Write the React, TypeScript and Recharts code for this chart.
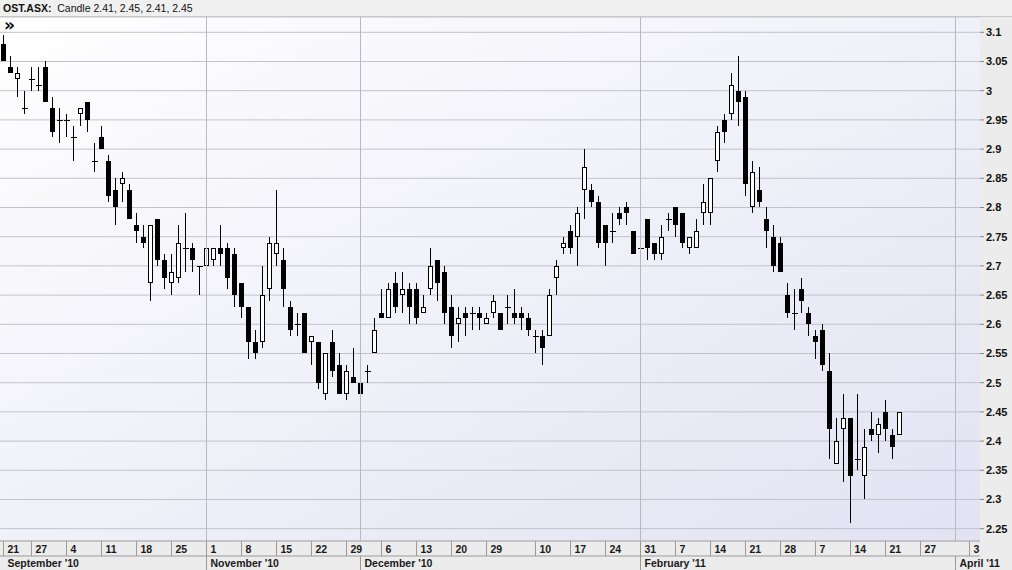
import React from 'react';
import { ComposedChart, Bar, XAxis, YAxis, CartesianGrid, ReferenceLine } from 'recharts';

const opens = [3.08,3.04,3.02,2.97,3.02,3.01,3.04,2.97,2.95,2.95,2.92,2.96,2.98,2.88,2.92,2.88,2.83,2.84,2.83,2.77,2.75,2.67,2.78,2.71,2.67,2.68,2.73,2.73,2.70,2.70,2.71,2.73,2.73,2.72,2.67,2.63,2.57,2.57,2.66,2.72,2.71,2.63,2.60,2.62,2.57,2.57,2.48,2.57,2.53,2.48,2.51,2.50,2.52,2.55,2.62,2.61,2.67,2.65,2.66,2.66,2.62,2.66,2.71,2.69,2.63,2.60,2.62,2.62,2.62,2.60,2.62,2.62,2.63,2.62,2.62,2.61,2.58,2.58,2.58,2.68,2.73,2.76,2.75,2.83,2.83,2.81,2.77,2.76,2.79,2.80,2.76,2.73,2.78,2.74,2.72,2.78,2.80,2.79,2.73,2.73,2.79,2.79,2.88,2.95,2.96,3.00,2.99,2.80,2.83,2.78,2.75,2.74,2.65,2.62,2.66,2.62,2.58,2.59,2.52,2.36,2.42,2.44,2.37,2.34,2.42,2.41,2.45,2.41,2.41];
const highs = [3.095,3.06,3.04,3.00,3.04,3.04,3.05,2.99,2.97,2.96,2.94,2.97,2.98,2.91,2.94,2.89,2.85,2.86,2.84,2.79,2.77,2.77,2.78,2.72,2.72,2.77,2.79,2.74,2.70,2.76,2.73,2.77,2.74,2.73,2.67,2.63,2.59,2.70,2.75,2.83,2.73,2.64,2.62,2.62,2.58,2.57,2.55,2.59,2.55,2.53,2.56,2.52,2.53,2.61,2.66,2.67,2.69,2.69,2.67,2.67,2.65,2.73,2.71,2.70,2.65,2.63,2.63,2.63,2.63,2.62,2.65,2.62,2.65,2.66,2.63,2.62,2.59,2.59,2.66,2.71,2.75,2.77,2.80,2.90,2.84,2.82,2.77,2.79,2.80,2.81,2.76,2.75,2.78,2.74,2.77,2.79,2.80,2.79,2.75,2.78,2.84,2.85,2.94,2.96,3.03,3.06,3.00,2.88,2.87,2.80,2.77,2.75,2.67,2.66,2.68,2.63,2.59,2.60,2.55,2.44,2.48,2.44,2.48,2.42,2.45,2.44,2.47,2.42,2.45];
const lows = [3.05,3.03,2.99,2.96,3.00,3.00,2.98,2.92,2.91,2.92,2.88,2.94,2.93,2.86,2.90,2.81,2.77,2.81,2.78,2.74,2.73,2.64,2.70,2.66,2.65,2.67,2.69,2.69,2.65,2.70,2.70,2.70,2.66,2.63,2.61,2.54,2.54,2.56,2.64,2.70,2.63,2.58,2.58,2.55,2.53,2.49,2.47,2.51,2.48,2.47,2.50,2.46,2.50,2.55,2.61,2.61,2.62,2.62,2.60,2.60,2.62,2.65,2.64,2.60,2.56,2.57,2.58,2.59,2.59,2.60,2.61,2.59,2.60,2.60,2.59,2.58,2.55,2.53,2.58,2.65,2.72,2.72,2.70,2.78,2.80,2.73,2.70,2.74,2.77,2.77,2.72,2.71,2.71,2.71,2.71,2.76,2.75,2.73,2.72,2.73,2.77,2.77,2.86,2.91,2.95,2.94,2.82,2.79,2.80,2.73,2.69,2.69,2.61,2.59,2.62,2.58,2.54,2.52,2.37,2.36,2.33,2.26,2.35,2.30,2.40,2.38,2.40,2.37,2.41];
const closes = [3.05,3.03,3.03,2.97,3.02,3.01,2.98,2.93,2.95,2.95,2.92,2.97,2.95,2.88,2.90,2.82,2.80,2.85,2.78,2.76,2.74,2.77,2.71,2.68,2.69,2.74,2.73,2.71,2.70,2.73,2.73,2.72,2.68,2.65,2.63,2.57,2.55,2.65,2.74,2.74,2.66,2.59,2.60,2.55,2.58,2.50,2.55,2.52,2.48,2.52,2.50,2.48,2.52,2.59,2.61,2.66,2.63,2.66,2.63,2.61,2.63,2.70,2.67,2.62,2.58,2.61,2.61,2.62,2.61,2.61,2.64,2.59,2.63,2.61,2.61,2.59,2.58,2.56,2.65,2.70,2.74,2.73,2.79,2.87,2.81,2.74,2.74,2.76,2.78,2.79,2.72,2.73,2.73,2.72,2.75,2.78,2.77,2.74,2.75,2.76,2.81,2.85,2.93,2.93,3.01,2.98,2.84,2.86,2.81,2.76,2.70,2.69,2.62,2.62,2.64,2.60,2.57,2.53,2.42,2.40,2.44,2.34,2.37,2.39,2.41,2.43,2.42,2.39,2.45];

const slotCount = 140;
const dayTickIdx = [0,4,9,14,19,24,29,34,39,44,49,54,59,64,69,76,81,86,91,96,101,106,111,116,121,126,131,138];
const dayTickLabels = ['21','27','4','11','18','25','1','8','15','22','29','6','13','20','29','10','17','24','31','7','14','21','28','7','14','21','27','3'];
const monthTickIdx = [0,29,51,91,136];
const monthTickLabels = ["September '10","November '10","December '10","February '11","April '11"];
const yTicks = [2.25,2.3,2.35,2.4,2.45,2.5,2.55,2.6,2.65,2.7,2.75,2.8,2.85,2.9,2.95,3,3.05,3.1];
const yDomain = [2.2289, 3.1262];

const data = Array.from({ length: slotCount }, (_, i) => ({
  i,
  o: i < opens.length ? opens[i] : null,
  h: i < highs.length ? highs[i] : null,
  l: i < lows.length ? lows[i] : null,
  c: i < closes.length ? closes[i] : null,
}));

const FONT = '"Liberation Sans", Arial, sans-serif';

const Candle = (props: any) => {
  const { x, y, width, height, payload } = props;
  if (!payload || payload.o == null || x == null || y == null) return null;
  const { o, h, l, c } = payload;
  const top = Math.min(y, y + height);
  const hh = Math.abs(height);
  const ratio = h - l > 0 ? hh / (h - l) : 0;
  const py = (v: number) => top + (h - v) * ratio;
  const cx = Math.floor(x + width / 2) + 0.5;
  const yH = Math.round(py(h));
  const yL = Math.round(py(l));
  const yO = py(o);
  const yC = py(c);
  const bTop = Math.round(Math.min(yO, yC));
  const bBot = Math.round(Math.max(yO, yC));
  const up = c > o;
  const doji = bBot - bTop < 1;
  return (
    <g>
      <line x1={cx} x2={cx} y1={yH} y2={yL} stroke="#000" strokeWidth={1} shapeRendering="crispEdges" />
      {doji ? (
        <line x1={cx - 3} x2={cx + 3} y1={bTop + 0.5} y2={bTop + 0.5} stroke="#000" strokeWidth={1} shapeRendering="crispEdges" />
      ) : up ? (
        <rect x={cx - 2} y={bTop + 0.5} width={4} height={bBot - bTop - 1} fill="#fff" stroke="#000" strokeWidth={1} shapeRendering="crispEdges" />
      ) : (
        <rect x={cx - 2.5} y={bTop} width={5} height={bBot - bTop} fill="#000" shapeRendering="crispEdges" />
      )}
    </g>
  );
};

const DayTick = (props: any) => {
  const { x, y, payload } = props;
  const idx = dayTickIdx.indexOf(payload.value);
  const label = idx >= 0 ? dayTickLabels[idx] : '';
  const lx = Math.floor(x) + 0.5;
  return (
    <g>
      <line x1={lx} x2={lx} y1={y} y2={y + 15} stroke="#9a9a9a" strokeWidth={1} shapeRendering="crispEdges" />
      <text x={lx + 4} y={y + 12} fontFamily={FONT} fontSize={10.5} fontWeight="bold" fill="#1a1a1a">{label}</text>
    </g>
  );
};

const MonthTick = (props: any) => {
  const { x, y, payload } = props;
  const idx = monthTickIdx.indexOf(payload.value);
  const label = idx >= 0 ? monthTickLabels[idx] : '';
  const lx = Math.floor(x) + 0.5;
  return (
    <g>
      {idx > 0 && <line x1={lx} x2={lx} y1={y} y2={y + 14} stroke="#9a9a9a" strokeWidth={1} shapeRendering="crispEdges" />}
      <text x={lx + 4} y={y + 11} fontFamily={FONT} fontSize={10.5} fontWeight="bold" fill="#1a1a1a">{label}</text>
    </g>
  );
};

const fmtY = (v: number) => String(Number(v.toFixed(2)));

export default function App() {
  return (
    <div style={{ position: 'absolute', left: 0, top: 0, width: 1012, height: 570, background: '#ececec', overflow: 'hidden' }}>
      <div style={{ height: 16, borderBottom: '1px solid #c8c8c8', background: '#f0f0f0', fontFamily: FONT, fontSize: 10.5, lineHeight: '16px', paddingLeft: 3, color: '#111', whiteSpace: 'nowrap' }}>
        <b>OST.ASX:</b>&nbsp;&nbsp;Candle 2.41, 2.45, 2.41, 2.45
      </div>
      <div style={{ position: 'relative' }}>
        <ComposedChart width={1012} height={553} data={data} margin={{ top: 0, right: 1, bottom: 0, left: 0 }} barCategoryGap={0}>
          <defs>
            <linearGradient id="plotBg" x1="0" y1="0" x2="1" y2="1">
              <stop offset="0%" stopColor="#ffffff" />
              <stop offset="100%" stopColor="#e2e2f3" />
            </linearGradient>
          </defs>
          <CartesianGrid vertical={false} stroke="#c2c2ca" fill="url(#plotBg)" fillOpacity={1} />
          <XAxis xAxisId="d" dataKey="i" type="category" ticks={dayTickIdx} interval={0} height={15} tickSize={0} tickMargin={0} axisLine={{ stroke: '#b0b0b0' }} tickLine={false} tick={<DayTick />} />
          <XAxis xAxisId="m" dataKey="i" type="category" ticks={monthTickIdx} interval={0} height={14} tickSize={0} tickMargin={0} axisLine={{ stroke: '#9a9a9a' }} tickLine={false} tick={<MonthTick />} />
          <YAxis orientation="right" width={31} domain={yDomain} allowDataOverflow ticks={yTicks} interval={0} tickFormatter={fmtY} axisLine={false} tickLine={{ stroke: '#888' }} tickSize={4} tickMargin={2} tick={{ fontFamily: FONT, fontSize: 11, fontWeight: 'bold', fill: '#111' }} />
          {monthTickIdx.slice(1).map((m) => (
            <ReferenceLine key={m} xAxisId="d" x={m} stroke="#b8b8c4" strokeWidth={1} ifOverflow="visible" />
          ))}
          <Bar xAxisId="d" dataKey={(d: any) => (d.h == null ? null : [d.l, d.h])} barSize={7} shape={<Candle />} isAnimationActive={false} />
        </ComposedChart>
        <div style={{ position: 'absolute', left: 4, top: 0, fontFamily: '"DejaVu Sans", sans-serif', fontWeight: 'bold', fontSize: 17, lineHeight: '17px', color: '#000' }}>»</div>
      </div>
    </div>
  );
}
